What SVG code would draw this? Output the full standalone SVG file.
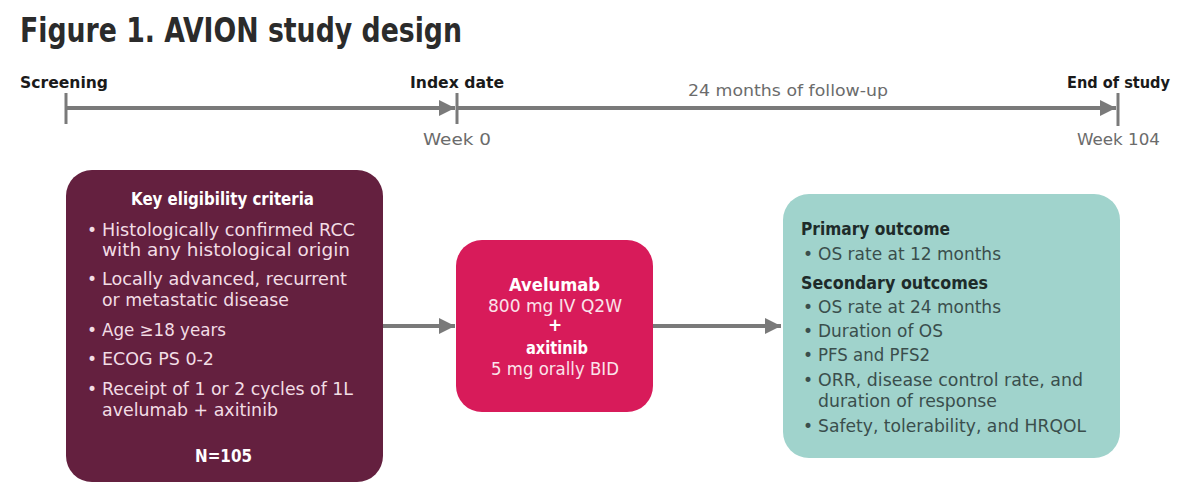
<svg xmlns="http://www.w3.org/2000/svg" width="1200" height="485" viewBox="0 0 1200 485">
<defs>
<style>
.title{font-family:"DejaVu Sans Condensed","Liberation Sans Narrow","Liberation Sans",sans-serif;font-weight:bold;font-size:33px;fill:#2b2b2b}
.tl{font-family:"DejaVu Sans Condensed","DejaVu Sans",sans-serif;font-weight:bold;font-size:16px;fill:#1a1a1a}
.wk{font-family:"DejaVu Sans",sans-serif;font-size:16.5px;fill:#6b6b6b}
.t{font-family:"DejaVu Sans",sans-serif;font-size:17px}
.tb{font-family:"DejaVu Sans",sans-serif;font-size:17px;font-weight:bold}
.c1{fill:#f2dde5}
.c1b{fill:#ffffff}
.c2{fill:#fbe3ea}
.c3{fill:#3a4e4c}
.c3b{fill:#1e2b2a}
.ln{stroke:#7a7a7a;stroke-width:4;fill:none}
.tick{stroke:#7a7a7a;stroke-width:3}
</style>
<marker id="ah" viewBox="0 0 10 10" refX="10" refY="5" markerWidth="4" markerHeight="4" markerUnits="strokeWidth" orient="auto">
<path d="M0,0 L10,5 L0,10 z" fill="#7a7a7a"/>
</marker>
</defs>
<rect width="1200" height="485" fill="#ffffff"/>
<text class="title" x="20" y="42" textLength="442" lengthAdjust="spacingAndGlyphs">Figure 1. AVION study design</text>

<g id="timeline">
<line class="ln" x1="66" y1="108" x2="455" y2="108" marker-end="url(#ah)"/>
<line class="ln" x1="457" y1="108" x2="1116" y2="108" marker-end="url(#ah)"/>
<line class="tick" x1="66" y1="93" x2="66" y2="124"/>
<line class="tick" x1="457" y1="93" x2="457" y2="124"/>
<line class="tick" x1="1118" y1="93" x2="1118" y2="126"/>
<text class="tl" x="20" y="88" textLength="88" lengthAdjust="spacingAndGlyphs">Screening</text>
<text class="tl" x="410" y="88" textLength="94" lengthAdjust="spacingAndGlyphs">Index date</text>
<text class="tl" x="1067" y="88" textLength="103" lengthAdjust="spacingAndGlyphs">End of study</text>
<text class="wk" x="423" y="145" textLength="68" lengthAdjust="spacingAndGlyphs">Week 0</text>
<text class="wk" x="1077" y="145" textLength="83" lengthAdjust="spacingAndGlyphs">Week 104</text>
<text class="wk" x="688" y="96" textLength="200" lengthAdjust="spacingAndGlyphs">24 months of follow-up</text>
</g>

<g id="connectors">
<line class="ln" x1="383" y1="326" x2="455" y2="326" marker-end="url(#ah)"/>
<line class="ln" x1="653" y1="326" x2="781" y2="326" marker-end="url(#ah)"/>
</g>

<g id="eligibility">
<rect x="66" y="170" width="317" height="312" rx="26" fill="#64203f"/>
<text class="tb c1b" x="131" y="205" textLength="183" lengthAdjust="spacingAndGlyphs">Key eligibility criteria</text>
<text class="t c1" x="87" y="236">•</text><text class="t c1" x="102" y="236" textLength="253" lengthAdjust="spacingAndGlyphs">Histologically confirmed RCC</text>
<text class="t c1" x="102" y="256" textLength="248" lengthAdjust="spacingAndGlyphs">with any histological origin</text>
<text class="t c1" x="87" y="285">•</text><text class="t c1" x="102" y="285" textLength="245" lengthAdjust="spacingAndGlyphs">Locally advanced, recurrent</text>
<text class="t c1" x="102" y="306" textLength="187" lengthAdjust="spacingAndGlyphs">or metastatic disease</text>
<text class="t c1" x="87" y="336">•</text><text class="t c1" x="102" y="336" textLength="124" lengthAdjust="spacingAndGlyphs">Age ≥18 years</text>
<text class="t c1" x="87" y="365">•</text><text class="t c1" x="102" y="365" textLength="112" lengthAdjust="spacingAndGlyphs">ECOG PS 0-2</text>
<text class="t c1" x="87" y="395">•</text><text class="t c1" x="102" y="395" textLength="251" lengthAdjust="spacingAndGlyphs">Receipt of 1 or 2 cycles of 1L</text>
<text class="t c1" x="102" y="416" textLength="176" lengthAdjust="spacingAndGlyphs">avelumab + axitinib</text>
<text class="tb c1b" x="195" y="462" textLength="57" lengthAdjust="spacingAndGlyphs">N=105</text>
</g>

<g id="treatment">
<rect x="456" y="240" width="197" height="172" rx="26" fill="#d81b5a"/>
<text class="tb c1b" x="509" y="291" textLength="91" lengthAdjust="spacingAndGlyphs">Avelumab</text>
<text class="t c2" x="488" y="312" textLength="134" lengthAdjust="spacingAndGlyphs">800 mg IV Q2W</text>
<text class="tb c1b" x="555" y="331" text-anchor="middle">+</text>
<text class="tb c1b" x="526" y="354" textLength="62" lengthAdjust="spacingAndGlyphs">axitinib</text>
<text class="t c2" x="491" y="375" textLength="128" lengthAdjust="spacingAndGlyphs">5 mg orally BID</text>
</g>

<g id="outcomes">
<rect x="783" y="194" width="337" height="264" rx="26" fill="#a0d3cc"/>
<text class="tb c3b" x="801" y="235" textLength="149" lengthAdjust="spacingAndGlyphs">Primary outcome</text>
<text class="t c3" x="803" y="260">•</text><text class="t c3" x="818" y="260" textLength="183" lengthAdjust="spacingAndGlyphs">OS rate at 12 months</text>
<text class="tb c3b" x="801" y="289" textLength="187" lengthAdjust="spacingAndGlyphs">Secondary outcomes</text>
<text class="t c3" x="803" y="313">•</text><text class="t c3" x="818" y="313" textLength="183" lengthAdjust="spacingAndGlyphs">OS rate at 24 months</text>
<text class="t c3" x="803" y="337">•</text><text class="t c3" x="818" y="337" textLength="125" lengthAdjust="spacingAndGlyphs">Duration of OS</text>
<text class="t c3" x="803" y="361">•</text><text class="t c3" x="818" y="361" textLength="112" lengthAdjust="spacingAndGlyphs">PFS and PFS2</text>
<text class="t c3" x="803" y="386">•</text><text class="t c3" x="818" y="386" textLength="265" lengthAdjust="spacingAndGlyphs">ORR, disease control rate, and</text>
<text class="t c3" x="818" y="407" textLength="179" lengthAdjust="spacingAndGlyphs">duration of response</text>
<text class="t c3" x="803" y="432">•</text><text class="t c3" x="818" y="432" textLength="268" lengthAdjust="spacingAndGlyphs">Safety, tolerability, and HRQOL</text>
</g>
</svg>
